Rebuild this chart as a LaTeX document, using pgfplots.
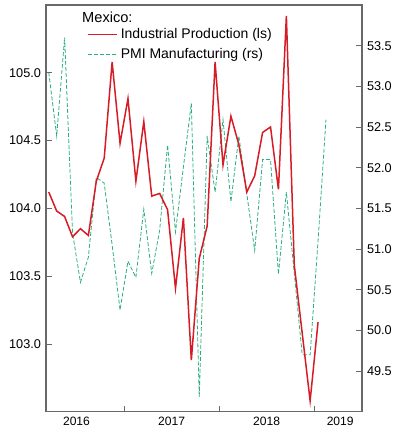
\documentclass[border=0pt]{standalone}
\usepackage{pgfplots}
\pgfplotsset{compat=1.18}
\usepackage{fontspec}
\setmainfont{Liberation Sans}
\definecolor{ipred}{RGB}{214,28,38}
\definecolor{pmigreen}{RGB}{45,175,125}
\definecolor{axgray}{RGB}{105,105,105}
\newcommand{\xtickfont}{\fontsize{12.1}{14}\selectfont}
\newcommand{\yf}{\fontsize{12.7}{15}\selectfont}
\newcommand{\legfont}{\fontsize{14}{17}\selectfont}
\pgfplotsset{
  base/.style={
    scale only axis, width=316pt, height=406.7pt,
    xmin=0.65, xmax=40.55,
    every tick/.style={axgray, line width=0.8pt},
    axis line style={axgray, line width=1.2pt},
    /pgf/number format/assume math mode=true,
  }
}
\begin{document}
\begin{tikzpicture}
% PMI Manufacturing (right scale), full box
\begin{axis}[base,
  ymin=49, ymax=54,
  ytick={49.5,50,50.5,51,51.5,52,52.5,53,53.5},
  yticklabels={{\yf 49.5},{\yf 50.0},{\yf 50.5},{\yf 51.0},{\yf 51.5},{\yf 52.0},{\yf 52.5},{\yf 53.0},{\yf 53.5}},
  ytick pos=right, xtick pos=bottom,
  tick align=inside, major tick length=6pt,
  yticklabel style={font=\yf, xshift=1.5pt},
  xtick={10.5,22.5,34.5}, xticklabels={},
  extra x ticks={4.5,16.5,28.5,37.8},
  extra x tick labels={\xtickfont 2016,\xtickfont 2017,\xtickfont 2018,\xtickfont 2019},
  extra x tick style={major tick length=0pt, xticklabel style={yshift=-1.5pt}},
]
\addplot[pmigreen, line width=0.8pt, dash pattern=on 4pt off 2pt] coordinates {
(1,53.17) (2,52.39) (3,53.60) (4,51.20) (5,50.59) (6,50.90) (7,51.88) (8,51.81)
(9,51.05) (10,50.25) (11,50.85) (12,50.65) (13,51.49) (14,50.70) (15,51.23) (16,52.28)
(17,51.21) (18,52.01) (19,52.79) (20,49.18) (21,52.39) (22,51.70) (23,52.59) (24,51.58)
(25,52.39) (26,51.68) (27,50.98) (28,52.10) (29,52.10) (30,50.69) (31,51.70) (32,50.70)
(33,49.70) (34,49.70) (35,51.10) (36,52.59)
};
\end{axis}
% Industrial Production (left scale)
\begin{axis}[base,
  ymin=102.5, ymax=105.5,
  ytick={103,103.5,104,104.5,105},
  yticklabels={{\yf 103.0},{\yf 103.5},{\yf 104.0},{\yf 104.5},{\yf 105.0}},
  axis y line*=left, axis x line=none,
  tick align=inside, major tick length=6pt,
  yticklabel style={font=\yf, xshift=-1.5pt},
  legend style={at={(0.130,0.945)}, anchor=north west, draw=none, fill=none,
    inner sep=0pt, row sep=6pt, font=\legfont,
    nodes={inner sep=1pt},
    /tikz/every odd column/.append style={column sep=2pt}},
  legend cell align=left,
  legend image code/.code={\draw[#1] (0pt,0pt) -- (29pt,0pt);},
]
\addlegendimage{ipred, line width=1.5pt}
\addlegendentry{Industrial Production (ls)}
\addlegendimage{pmigreen, line width=0.8pt, dash pattern=on 4pt off 2pt}
\addlegendentry{PMI Manufacturing (rs)}
\addplot[ipred, line width=1.5pt, forget plot] coordinates {
(1,104.12) (2,103.98) (3,103.94) (4,103.79) (5,103.85) (6,103.80) (7,104.20) (8,104.37)
(9,105.08) (10,104.48) (11,104.81) (12,104.20) (13,104.64) (14,104.09) (15,104.11) (16,103.99)
(17,103.41) (18,103.93) (19,102.88) (20,103.63) (21,103.87) (22,105.08) (23,104.32) (24,104.68)
(25,104.47) (26,104.12) (27,104.24) (28,104.56) (29,104.60) (30,104.14) (31,105.42) (32,103.58)
(33,103.08) (34,102.58) (35,103.16)
};
\node[anchor=base west, inner sep=0pt, font=\fontsize{14.6}{17}\selectfont]
  at (rel axis cs:0.114,0.9565) {Mexico:};
\end{axis}
\pgfresetboundingbox
\path (-46pt,-21.3pt) rectangle (349pt,411.7pt);
\end{tikzpicture}
\end{document}
